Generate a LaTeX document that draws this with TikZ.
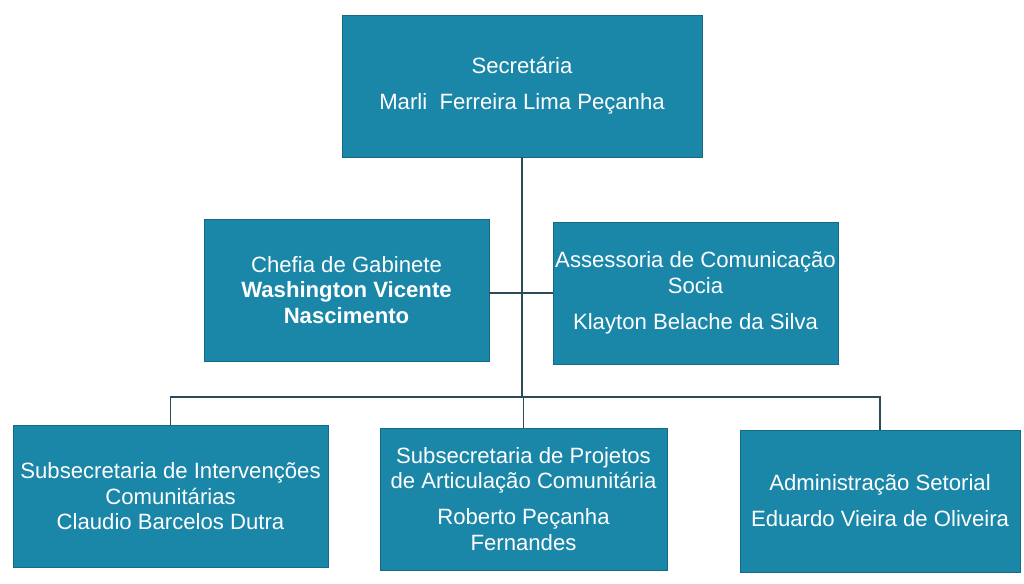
\documentclass[tikz,border=0pt]{standalone}
\usepackage{fontspec}
\setmainfont{Liberation Sans}
\usetikzlibrary{positioning, calc}
\definecolor{boxblue}{HTML}{1A86A8}
\definecolor{linegray}{HTML}{2B4C56}

\begin{document}
\begin{tikzpicture}[x=0.02cm, y=-0.02cm]
\tikzset{
  unit/.style={draw=boxblue!80!black, fill=boxblue, text=white, align=center,
    inner sep=0pt, minimum height=2.84cm, font=\fontsize{12.6}{14.5}\selectfont},
  wide/.style={unit, minimum width=7.2cm},
  mid/.style={unit, minimum width=5.7cm},
  low/.style={unit, minimum width=5.8cm},
  link/.style={draw=linegray, line width=1.1pt},
}
%
\useasboundingbox[fill=white] (0,0) rectangle (1024,584);

       \node [wide] (sec) at (522, 86) {Secretária\\[6pt]Marli~ Ferreira Lima Peçanha};

       \node [mid] (chefia) at (346.5, 290) {Chefia de Gabinete\\
         \textbf{Washington Vicente}\\ \textbf{Nascimento}};
       \node [mid] (asses) at (695.5, 293) {Assessoria de Comunicação\\Socia\\[6pt]
         Klayton Belache da Silva};

       \node [low, minimum width=6.3cm] (subint) at (170.5, 496.5) {Subsecretaria de Intervenções\\
         Comunitárias\\Claudio Barcelos Dutra};
       \node [low, minimum width=5.74cm] (subproj) at (523.5, 499) {Subsecretaria de Projetos\\
         de Articulação Comunitária\\[6pt]Roberto Peçanha\\Fernandes};
       \node [low, minimum width=5.6cm] (admin) at (880, 501) {Administração Setorial\\[6pt]
         Eduardo Vieira de Oliveira};

       \coordinate (bus) at (522, 397);

       \draw[link] (sec.south) -- (bus);
       \draw[link] (asses.west) -- (asses.west -| chefia.east);
       \draw[link] (subint.north) |- (bus) -| (admin.north);
       \draw[link] (subproj.north) -- (subproj.north |- bus);

\end{tikzpicture}
\end{document}
